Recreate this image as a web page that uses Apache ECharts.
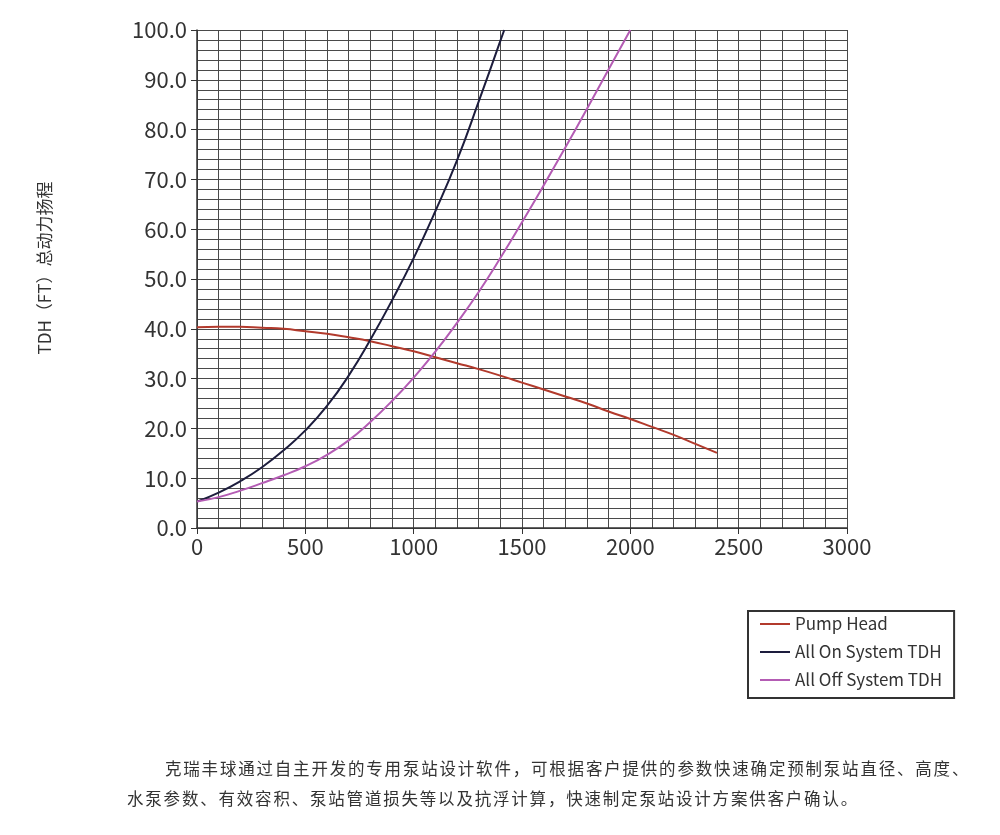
<!DOCTYPE html>
<html>
<head>
<meta charset="utf-8">
<script src="https://cdn.jsdelivr.net/npm/echarts@6/dist/echarts.min.js"></script>
<style>
    html, body { margin: 0; padding: 0; background: #fff; }
    #chart { width: 1000px; height: 835px; }
    .note {
        position: absolute;
        font-family: "Noto Sans CJK SC", sans-serif;
        font-size: 16.5px;
        letter-spacing: 1.8px;
        color: #333;
        white-space: nowrap;
    }
</style>
</head>
<body>
<div id="chart"></div>
<div class="note" style="left:165px; top:756px;">克瑞丰球通过自主开发的专用泵站设计软件，可根据客户提供的参数快速确定预制泵站直径、高度、</div>
<div class="note" style="left:127px; top:786px;">水泵参数、有效容积、泵站管道损失等以及抗浮计算，快速制定泵站设计方案供客户确认。</div>
<script>
    var FONT = 'Noto Sans CJK SC';

    // 流量 (x) 与扬程 (y)
    var pumpFlow = [0, 100, 200, 300, 400, 500, 600, 700, 800, 900, 1000, 1100, 1200,
        1300, 1400, 1500, 1600, 1700, 1800, 1900, 2000, 2100, 2200, 2300, 2400];
    var pumpHead = [40.3, 40.4, 40.4, 40.2, 40.0, 39.5, 39.0, 38.3, 37.5, 36.5, 35.5, 34.3, 33.1,
        31.9, 30.6, 29.2, 27.8, 26.4, 25.0, 23.4, 21.9, 20.3, 18.7, 16.9, 15.1];

    var onFlow = [0, 100, 200, 300, 400, 500, 600, 700, 800, 900, 1000, 1100, 1200, 1300, 1400, 1418];
    var onHead = [5.3, 7.1, 9.4, 12.2, 15.6, 19.6, 24.5, 30.6, 37.8, 45.7, 54.2, 63.6, 73.8, 85.6, 97.8, 100];

    var offFlow = [0, 100, 200, 300, 400, 500, 600, 700, 800, 900, 1000, 1100, 1200,
        1300, 1400, 1500, 1600, 1700, 1800, 1900, 2000];
    var offHead = [5.3, 6.2, 7.5, 9.0, 10.6, 12.4, 14.7, 17.6, 21.3, 25.5, 30.2, 35.4, 41.2,
        47.4, 54.2, 61.4, 68.8, 76.4, 84.2, 92.1, 100];

    var seriesNames = ['Pump Head', 'All On System TDH', 'All Off System TDH'];
    var seriesColors = ['#b23a2c', '#1d1d3d', '#b45cb4'];

    function pairs(xs, ys) {
        return xs.map(function (x, i) { return [x, ys[i]]; });
    }

    var myChart = echarts.init(document.getElementById('chart'));

    var gridLine = { show: true, lineStyle: { color: '#4a4a4a', width: 1 } };

    var option = {
        animation: false,
        textStyle: { fontFamily: FONT },
        grid: { left: 197, top: 30, width: 650, height: 498, containLabel: false },
        legend: {
            orient: 'vertical',
            left: 748,
            top: 611,
            padding: [4, 12, 9, 12],
            itemGap: 10,
            itemWidth: 30,
            itemHeight: 2,
            icon: 'rect',
            borderColor: '#333',
            borderWidth: 2,
            textStyle: { fontSize: 17, lineHeight: 18, color: '#333', fontFamily: FONT },
            data: seriesNames
        },
        xAxis: {
            type: 'value',
            min: 0,
            max: 3000,
            interval: 500,
            axisLine: { show: true, lineStyle: { color: '#333', width: 1.5 } },
            axisTick: { show: true, length: 6, lineStyle: { color: '#333' } },
            axisLabel: {
                fontSize: 22, color: '#333', margin: 8, fontFamily: FONT,
                formatter: function (v) { return String(v); }
            },
            splitLine: gridLine,
            minorTick: { show: false, splitNumber: 5 },
            minorSplitLine: gridLine
        },
        yAxis: {
            type: 'value',
            min: 0,
            max: 100,
            interval: 10,
            axisLine: { show: true, lineStyle: { color: '#333', width: 1.5 } },
            axisTick: { show: true, length: 6, lineStyle: { color: '#333' } },
            axisLabel: {
                fontSize: 22, color: '#333', margin: 10, fontFamily: FONT,
                formatter: function (v) { return v.toFixed(1); }
            },
            splitLine: gridLine,
            minorTick: { show: false, splitNumber: 5 },
            minorSplitLine: gridLine
        },
        graphic: [
            {
                type: 'text',
                x: 45,
                y: 268,
                rotation: Math.PI / 2,
                style: {
                    text: 'TDH（FT）总动力扬程',
                    fontSize: 17,
                    fontFamily: FONT,
                    fill: '#333',
                    align: 'center',
                    verticalAlign: 'middle'
                }
            }
        ],
        series: [
            { name: seriesNames[0], data: pairs(pumpFlow, pumpHead) },
            { name: seriesNames[1], data: pairs(onFlow, onHead) },
            { name: seriesNames[2], data: pairs(offFlow, offHead) }
        ].map(function (s, i) {
            return {
                name: s.name,
                type: 'line',
                smooth: true,
                showSymbol: false,
                color: seriesColors[i],
                lineStyle: { width: 2, color: seriesColors[i] },
                data: s.data
            };
        })
    };

    myChart.setOption(option);
</script>
</body>
</html>
